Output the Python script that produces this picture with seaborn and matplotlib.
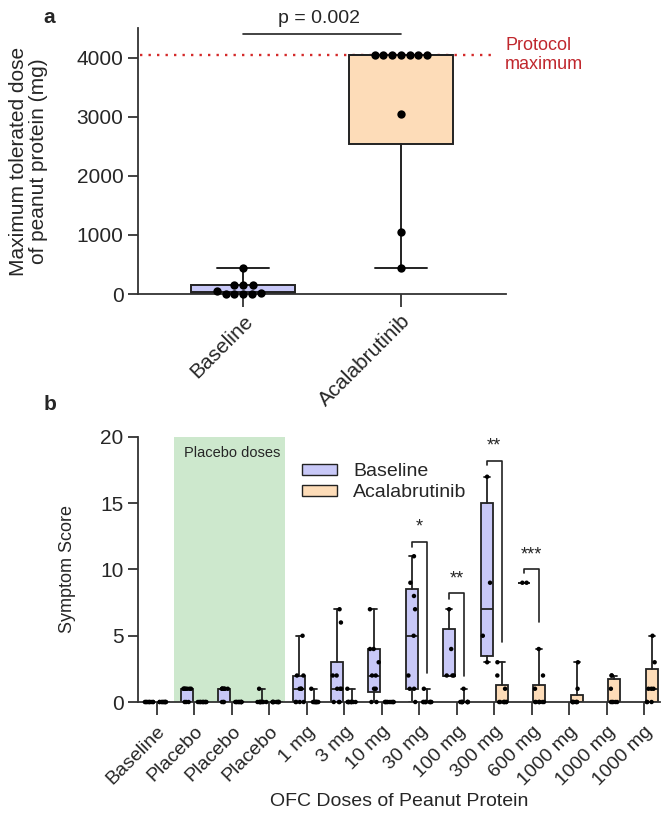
import warnings
import numpy as np
import pandas as pd
import seaborn as sns
import matplotlib.pyplot as plt
from matplotlib.patches import Patch

warnings.filterwarnings("ignore")
np.random.seed(3)  # only for the horizontal jitter of the dots

# ---- panel a data: maximum tolerated dose (mg)
mtd_groups = ["Baseline", "Acalabrutinib"]
mtd_baseline = [444, 144, 144, 144, 44, 14, 4, 4, 1, 1]
mtd_acalabrutinib = [4044, 4044, 4044, 4044, 4044, 4044, 4044, 3044, 1044, 444]
protocol_max = 4044
p_text = "p = 0.002"

# ---- panel b data: symptom score per OFC dose
dose_labels = ["Baseline", "Placebo", "Placebo", "Placebo", "1 mg", "3 mg", "10 mg",
               "30 mg", "100 mg", "300 mg", "600 mg", "1000 mg", "1000 mg", "1000 mg"]
score_baseline = [
    [0] * 10,
    [0, 0, 0, 1, 1, 1, 1, 1, 1, 1],
    [0, 0, 0, 1, 1, 1, 1, 1, 1, 1],
    [0] * 9 + [1],
    [0, 0, 0, 0, 1, 1, 1, 2, 2, 5],
    [0, 0, 0, 1, 1, 1, 2, 2, 6, 7],
    [0, 0, 1, 1, 2, 2, 3, 4, 4, 7],
    [0, 1, 1, 2, 5, 7, 8, 9, 11],
    [2, 2, 2, 4, 7],
    [3, 5, 9, 17],
    [9, 9],
    [],
    [],
    [],
]
score_acalabrutinib = [
    [0] * 10,
    [0] * 10,
    [0] * 10,
    [0] * 10,
    [0] * 9 + [1],
    [0] * 9 + [1],
    [0] * 10,
    [0] * 9 + [1],
    [0] * 9 + [1],
    [0] * 7 + [1, 2, 3],
    [0] * 7 + [1, 2, 4],
    [0] * 7 + [1, 3],
    [0, 0, 0, 0, 0, 1, 2, 2],
    [0, 0, 0, 1, 1, 1, 3, 5],
]
# significance brackets: dose index, bracket top, left end, right end, stars
sig_idx = [7, 8, 9, 10]
sig_top = [12.1, 8.2, 18.2, 10.0]
sig_left = [11.7, 7.8, 17.9, 9.7]
sig_right = [2.2, 2.0, 4.5, 6.0]
sig_text = ["*", "**", "**", "***"]

blue = "#c8c8f7"
peach = "#fddcb8"
ink = "#222222"


def box_stats(vals):
    v = np.asarray(vals, dtype=float)
    q1, med, q3 = np.percentile(v, [25, 50, 75], method="weibull")
    return dict(med=med, q1=q1, q3=q3, whislo=v.min(), whishi=v.max(), fliers=[])


def draw_boxes(ax, data, positions, width, colors, capw, lw):
    stats = [box_stats(d) for d in data]
    art = ax.bxp(stats, positions=positions, widths=width, patch_artist=True,
                 showfliers=False, manage_ticks=False, capwidths=capw,
                 boxprops=dict(edgecolor=ink, linewidth=lw),
                 medianprops=dict(color=ink, linewidth=lw),
                 whiskerprops=dict(color=ink, linewidth=lw),
                 capprops=dict(color=ink, linewidth=lw), zorder=2)
    for patch, c in zip(art["boxes"], colors):
        patch.set_facecolor(c)


sns.set_style("ticks")
plt.rcParams["font.family"] = ["Liberation Sans", "DejaVu Sans"]
plt.rcParams["axes.linewidth"] = 1.3
plt.rcParams["axes.edgecolor"] = "#333333"

fig = plt.figure(figsize=(6.66, 8.16), dpi=100)
ax1 = fig.add_axes([0.2072, 0.6397, 0.5526, 0.326])
ax2 = fig.add_axes([0.2072, 0.1397, 0.7838, 0.3248])

# ---- panel a
df_a = pd.DataFrame({
    "group": ["Baseline"] * len(mtd_baseline) + ["Acalabrutinib"] * len(mtd_acalabrutinib),
    "mtd": mtd_baseline + mtd_acalabrutinib,
})
draw_boxes(ax1, [mtd_baseline, mtd_acalabrutinib], [0, 1], 0.66, [blue, peach], 0.33, 1.4)
sns.swarmplot(data=df_a, x="group", y="mtd", order=mtd_groups, color="black",
              size=6, ax=ax1, zorder=3, clip_on=False)
ax1.plot([-0.655, 1.6], [protocol_max] * 2, ls=(0, (1, 2.6)), color="#d42a2a",
         lw=1.7, clip_on=False, zorder=1)
ax1.text(1.66, protocol_max, "Protocol\nmaximum", color="#c0272d", fontsize=13,
         va="center", ha="left", linespacing=1.1)
ax1.plot([0, 1], [4400, 4400], color=ink, lw=1.2, clip_on=False)
ax1.text(0.48, 4520, p_text, ha="center", va="bottom", fontsize=14)
ax1.set_xlim(-0.665, 1.665)
ax1.set_ylim(0, 4500)
ax1.set_yticks([0, 1000, 2000, 3000, 4000])
ax1.set_xticks([0, 1])
ax1.set_xticklabels(mtd_groups, rotation=45, ha="right", rotation_mode="anchor")
ax1.set_xlabel("")
ax1.set_ylabel("Maximum tolerated dose\nof peanut protein (mg)", fontsize=15,
               linespacing=1.05)
ax1.yaxis.set_label_coords(-0.245, 0.5)
ax1.tick_params(labelsize=15, length=7, width=1.3, color="#333333")
ax1.tick_params(axis="x", length=9)
sns.despine(ax=ax1)

# ---- panel b
rows = []
for i, lab in enumerate(dose_labels):
    for v in score_baseline[i]:
        rows.append((str(i), "Baseline", v))
    for v in score_acalabrutinib[i]:
        rows.append((str(i), "Acalabrutinib", v))
df_b = pd.DataFrame(rows, columns=["dose", "visit", "score"])

ax2.axvspan(0.45, 3.42, ymin=0, ymax=1, color="#cde8cd", zorder=0, lw=0)
ax2.text(3.3, 19.3, "Placebo doses", ha="right", va="top", fontsize=10.5)

base_pos = [i - 0.2 for i, d in enumerate(score_baseline) if len(d)]
base_data = [d for d in score_baseline if len(d)]
acal_pos = [i + 0.2 for i, d in enumerate(score_acalabrutinib) if len(d)]
acal_data = [d for d in score_acalabrutinib if len(d)]

sns.stripplot(data=df_b, x="dose", y="score", hue="visit",
              order=[str(i) for i in range(len(dose_labels))],
              hue_order=["Baseline", "Acalabrutinib"], palette=["black", "black"],
              dodge=True, jitter=0.26, size=3.2, ax=ax2, legend=False, zorder=3,
              clip_on=False)
draw_boxes(ax2, base_data, base_pos, 0.31, [blue] * len(base_data), 0.15, 1.3)
draw_boxes(ax2, acal_data, acal_pos, 0.31, [peach] * len(acal_data), 0.15, 1.3)

for idx, top, le, re, txt in zip(sig_idx, sig_top, sig_left, sig_right, sig_text):
    ax2.plot([idx - 0.2, idx - 0.2, idx + 0.2, idx + 0.2], [le, top, top, re],
             color=ink, lw=1.2)
    ax2.text(idx, top + 0.45, txt, ha="center", va="bottom", fontsize=13)

ax2.set_xlim(-0.5, 13.42)
ax2.set_ylim(0, 20)
ax2.set_yticks([0, 5, 10, 15, 20])
ax2.set_xticks(range(len(dose_labels)))
ax2.set_xticklabels(dose_labels, rotation=45, ha="right", rotation_mode="anchor")
ax2.set_xlabel("OFC Doses of Peanut Protein", fontsize=14, labelpad=3)
ax2.set_ylabel("Symptom Score", fontsize=13)
ax2.yaxis.set_label_coords(-0.118, 0.5)
ax2.tick_params(labelsize=15, length=7, width=1.3, color="#333333")
ax2.tick_params(axis="x", length=9, labelsize=14, pad=6)
sns.despine(ax=ax2)

ax2.legend(handles=[Patch(facecolor=blue, edgecolor=ink, label="Baseline"),
                    Patch(facecolor=peach, edgecolor=ink, label="Acalabrutinib")],
           loc="upper left", bbox_to_anchor=(0.3, 0.93), frameon=False, fontsize=14,
           handlelength=1.8, handleheight=0.5, labelspacing=0.2, borderaxespad=0)

fig.text(0.065, 0.972, "a", fontsize=15, fontweight="bold")
fig.text(0.065, 0.497, "b", fontsize=15, fontweight="bold")

fig.savefig("out.png", dpi=100)
